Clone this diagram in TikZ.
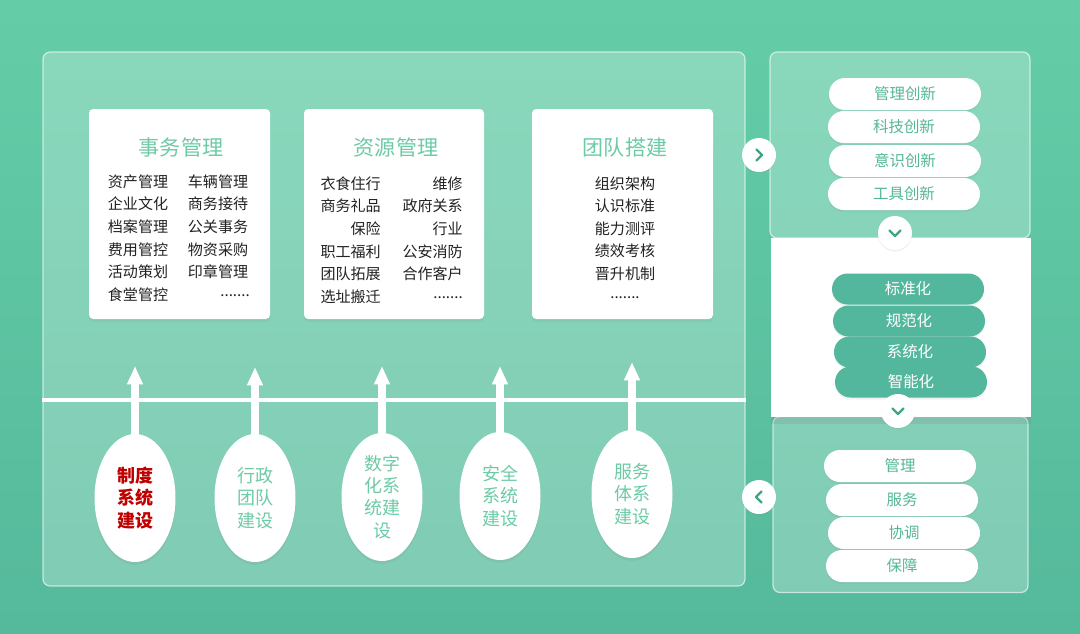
\documentclass[tikz,border=0pt]{standalone}
\usepackage{fontspec}
\setmainfont{Noto Sans CJK SC}
\usepackage{tikz}
\usetikzlibrary{arrows.meta,calc,shapes.geometric,shapes.misc,shadows}
\newcommand{\px}{0.025cm}
\definecolor{bgtop}{HTML}{64CDA7}
\definecolor{bgbot}{HTML}{55B99B}
\definecolor{titlegreen}{HTML}{6CCBA5}
\definecolor{pilltxt}{HTML}{55B796}
\definecolor{darkpill}{HTML}{52B79C}
\definecolor{chevgreen}{HTML}{3EA585}
\definecolor{itemtxt}{HTML}{222222}
\definecolor{redtxt}{HTML}{C00000}

\begin{document}
\begin{tikzpicture}[x=0.025cm,y=-0.025cm,
  panel/.style={draw=white,draw opacity=0.6,fill=white,fill opacity=0.25,rounded corners=5pt,line width=0.9pt},
  card/.style={fill=white,rounded corners=3pt,drop shadow={opacity=0.12,shadow xshift=0pt,shadow yshift=-2pt}},
  ctitle/.style={font=\fontsize{15}{18}\selectfont,text=titlegreen,inner sep=0},
  item/.style={font=\fontsize{10.7}{12}\selectfont,text=itemtxt,inner sep=0},
  oval/.style={ellipse,fill=white,minimum width=81*\px,minimum height=128*\px,inner sep=0,align=center,
    font=\fontsize{12.8}{15.8}\selectfont,text=titlegreen,drop shadow={opacity=0.12,shadow xshift=0pt,shadow yshift=-2pt}},
  uparrow/.style={draw=white,line width=5.8pt,-{Triangle[width=10.5pt,length=13pt]}},
  pill/.style={rounded rectangle,fill=white,minimum width=152*\px,minimum height=32*\px,inner sep=0,
    font=\fontsize{11}{13}\selectfont,text=pilltxt,drop shadow={opacity=0.1,shadow xshift=0pt,shadow yshift=-1.5pt}},
  darkpillbox/.style={pill,fill=darkpill,text=white,minimum height=31*\px},
  btn/.style={circle,fill=white,minimum size=34*\px,inner sep=0,drop shadow={opacity=0.12,shadow xshift=0pt,shadow yshift=-1pt}},
  chev/.style={draw=chevgreen,line width=1.6pt,line cap=round,line join=round}]
  \useasboundingbox (0,0) rectangle (1080,633);
  % 背景
  \shade[top color=bgtop,bottom color=bgbot] (0,0) rectangle (1080,633);
  % 左侧大面板
  \node[panel,minimum width=702*\px,minimum height=534*\px] (main) at (394,319) {};
  \draw[white,line width=2.2pt] (main.west |- 0,400) -- (main.east |- 0,400);
  % 三张卡片
  \node[card,minimum width=181*\px,minimum height=210*\px] (c1) at (179.5,214) {};
  \node[card,minimum width=180*\px,minimum height=210*\px] (c2) at (394,214) {};
  \node[card,minimum width=181*\px,minimum height=210*\px] (c3) at (622.5,214) {};
  \node[ctitle] (t1) at (181,147) {事务管理};
  \node[ctitle] (t2) at (396,147) {资源管理};
  \node[ctitle] (t3) at (625,147) {团队搭建};
  % 事务管理条目
  \node[item] (a1) at (138,182) {资产管理};
  \node[item] (a2) at (138,204) {企业文化};
  \node[item] (a3) at (138,227) {档案管理};
  \node[item] (a4) at (138,250) {费用管控};
  \node[item] (a5) at (138,272) {活动策划};
  \node[item] (a6) at (138,295) {食堂管控};
  \node[item] (a7) at (218,182) {车辆管理};
  \node[item] (a8) at (218,204) {商务接待};
  \node[item] (a9) at (218,227) {公关事务};
  \node[item] (a10) at (218,250) {物资采购};
  \node[item] (a11) at (218,272) {印章管理};
  \node[item,anchor=east] (a12) at (250,296) {.......};
  % 资源管理条目
  \node[item,anchor=east] (b1) at (381,184) {衣食住行};
  \node[item,anchor=east] (b2) at (381,206) {商务礼品};
  \node[item,anchor=east] (b3) at (381,229) {保险};
  \node[item,anchor=east] (b4) at (381,252) {职工福利};
  \node[item,anchor=east] (b5) at (381,274) {团队拓展};
  \node[item,anchor=east] (b6) at (381,297) {选址搬迁};
  \node[item,anchor=east] (b7) at (463,184) {维修};
  \node[item,anchor=east] (b8) at (463,206) {政府关系};
  \node[item,anchor=east] (b9) at (463,229) {行业};
  \node[item,anchor=east] (b10) at (463,252) {公安消防};
  \node[item,anchor=east] (b11) at (463,274) {合作客户};
  \node[item,anchor=east] (b12) at (463,298) {.......};
  % 团队搭建条目
  \node[item] (d1) at (625,184) {组织架构};
  \node[item] (d2) at (625,206) {认识标准};
  \node[item] (d3) at (625,229) {能力测评};
  \node[item] (d4) at (625,251) {绩效考核};
  \node[item] (d5) at (625,274) {晋升机制};
  \node[item] (d6) at (625,298) {.......};
  % 五个椭圆与向上箭头
  \node[oval,text=redtxt,font=\fontsize{12.8}{15.8}\selectfont\bfseries] (o1) at (135,498) {制度\\系统\\建设};
  \node[oval] (o2) at (255,498) {行政\\团队\\建设};
  \node[oval] (o3) at (382,497) {数字\\化系\\统建\\设};
  \node[oval] (o4) at (500,496) {安全\\系统\\建设};
  \node[oval] (o5) at (632,494) {服务\\体系\\建设};
  \coordinate (u1) at (135,366);
  \coordinate (u2) at (255,367);
  \coordinate (u3) at (382,366);
  \coordinate (u4) at (500,366);
  \coordinate (u5) at (632,362);
  \draw[uparrow] ([yshift=-6pt]o1.north) -- (u1);
  \draw[uparrow] ([yshift=-6pt]o2.north) -- (u2);
  \draw[uparrow] ([yshift=-6pt]o3.north) -- (u3);
  \draw[uparrow] ([yshift=-6pt]o4.north) -- (u4);
  \draw[uparrow] ([yshift=-6pt]o5.north) -- (u5);
  % 右侧三段面板
  \node[panel,minimum width=260*\px,minimum height=186*\px] (r1) at (900,145) {};
  \node[panel,minimum width=255*\px,minimum height=176*\px] (r3) at (900.5,504.5) {};
  \node[fill=white,minimum width=260*\px,minimum height=179*\px,inner sep=0,
    drop shadow={opacity=0.2,shadow xshift=0pt,shadow yshift=-5pt}] (r2) at (901,327.5) {};
  % 创新
  \node[pill] (p1) at (905,94) {管理创新};
  \node[pill] (p2) at (904,127) {科技创新};
  \node[pill] (p3) at (905,161) {意识创新};
  \node[pill] (p4) at (904,194) {工具创新};
  % 四化
  \node[darkpillbox] (m1) at (908,289) {标准化};
  \node[darkpillbox] (m2) at (909,321) {规范化};
  \node[darkpillbox] (m3) at (910,352) {系统化};
  \node[darkpillbox] (m4) at (911,382) {智能化};
  % 管理服务
  \node[pill] (q1) at (900,466) {管理};
  \node[pill] (q2) at (902,500) {服务};
  \node[pill] (q3) at (904,533) {协调};
  \node[pill] (q4) at (902,566) {保障};
  % 圆形按钮
  \node[btn] (k1) at (759,155) {};
  \node[btn] (k2) at (895,233) {};
  \node[btn] (k3) at (898,411) {};
  \node[btn] (k4) at (759,497) {};
  \draw[chev] ($(k1)+(-2.5,-5.5)$) -- ($(k1)+(3,0)$) -- ($(k1)+(-2.5,5.5)$);
  \draw[chev] ($(k2)+(-5.5,-2.5)$) -- ($(k2)+(0,3)$) -- ($(k2)+(5.5,-2.5)$);
  \draw[chev] ($(k3)+(-5.5,-2.5)$) -- ($(k3)+(0,3)$) -- ($(k3)+(5.5,-2.5)$);
  \draw[chev] ($(k4)+(2.5,-5.5)$) -- ($(k4)+(-3,0)$) -- ($(k4)+(2.5,5.5)$);
\end{tikzpicture}
\end{document}
